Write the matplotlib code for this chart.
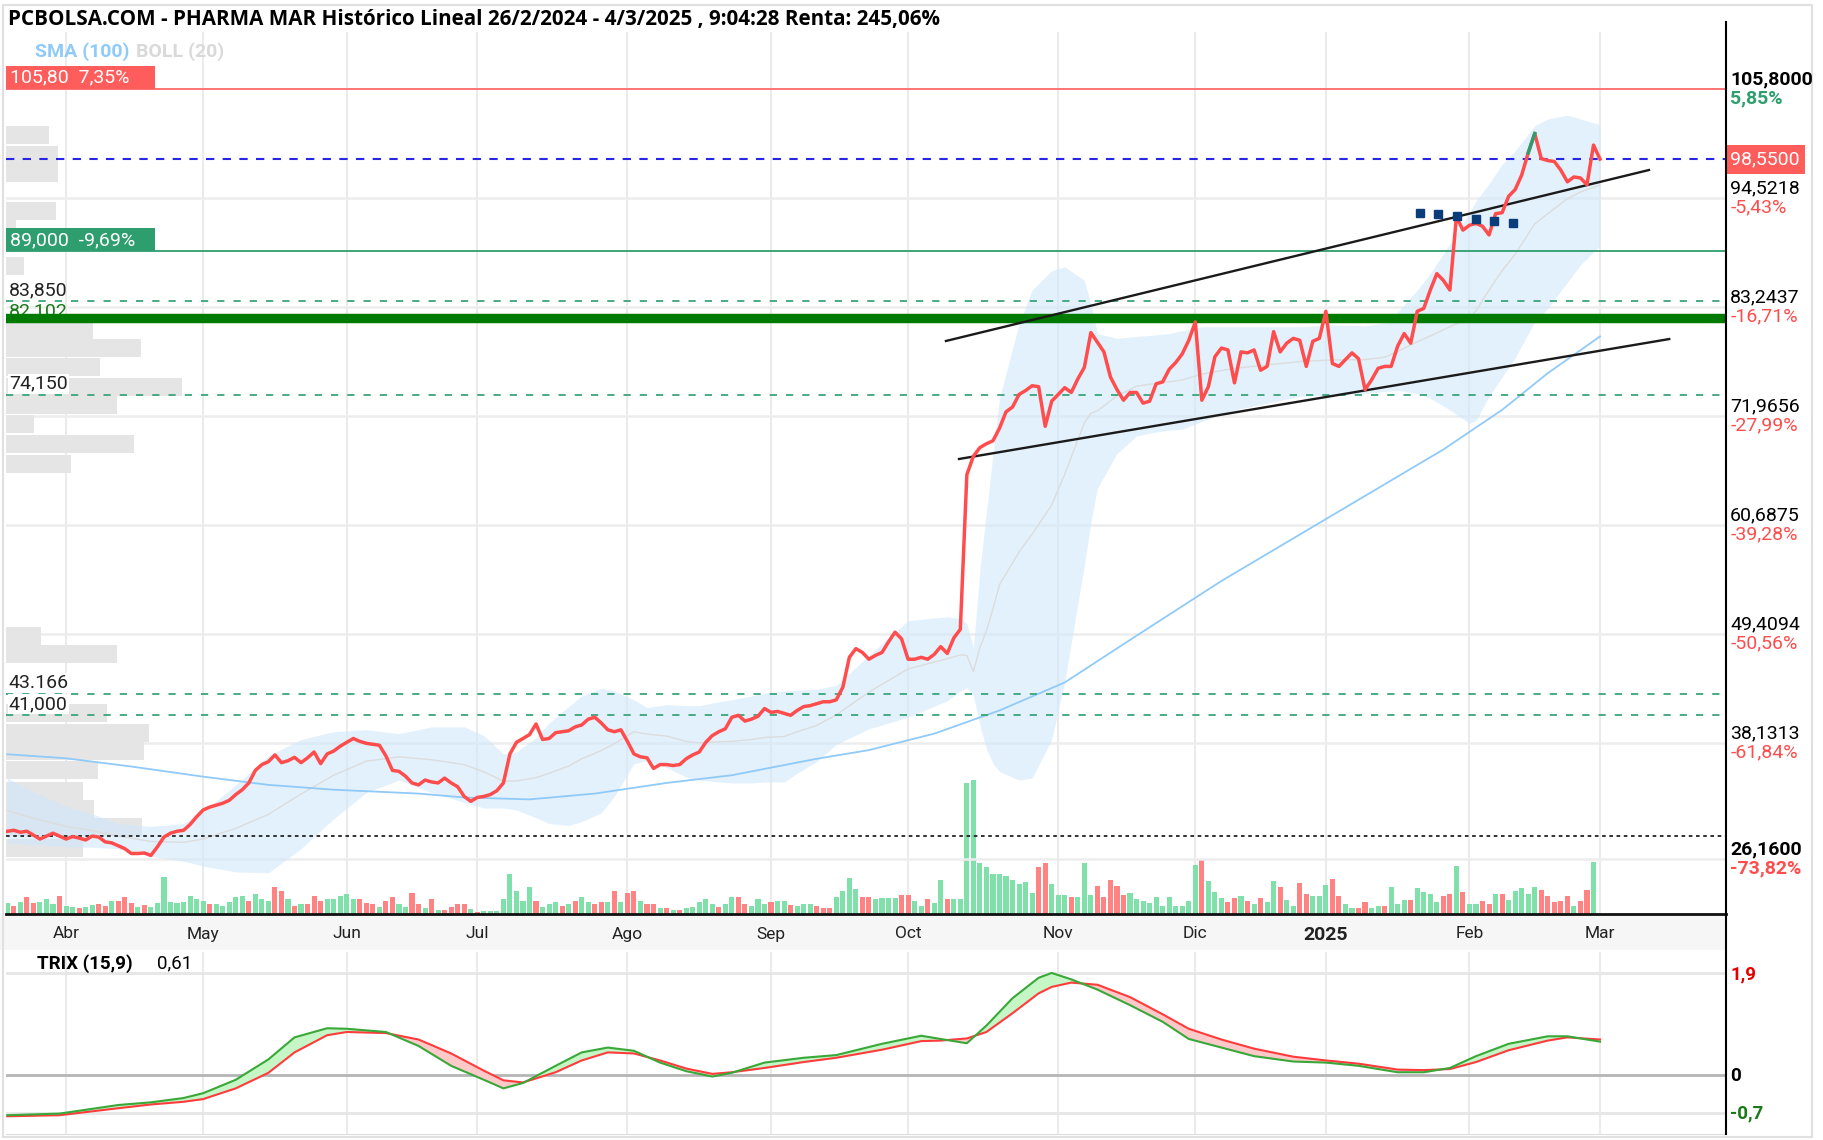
import numpy as np
import matplotlib
matplotlib.use("Agg")
import matplotlib.pyplot as plt
from matplotlib.patches import Rectangle
from matplotlib.lines import Line2D
from matplotlib.transforms import blended_transform_factory as blend

plt.rcParams['font.family'] = ['Roboto', 'DejaVu Sans']

# ---------------- datos (índice = sesión bursátil) ----------------
precio = [
    29.0, 29.1, 28.9, 29.0, 28.6, 28.2, 28.5, 28.8, 28.5, 28.2,
    28.45, 28.3, 28.1, 28.5, 28.4, 27.9, 27.8, 27.5, 27.2, 26.7,
    26.7, 26.75, 26.5, 27.4, 28.4, 28.8, 29.0, 29.1, 29.7, 30.5,
    31.2, 31.5, 31.7, 31.9, 32.2, 32.8, 33.3, 34.0, 35.3, 35.9,
    36.2, 36.9, 36.1, 36.3, 36.65, 36.1, 36.6, 37.2, 36.0, 37.0,
    37.3, 37.8, 38.2, 38.6, 38.3, 38.1, 38.0, 37.9, 36.8, 35.3,
    35.2, 34.7, 34.0, 33.8, 34.3, 34.1, 34.0, 34.5, 34.0, 33.6,
    32.6, 32.1, 32.5, 32.6, 32.8, 33.2, 34.0, 37.0, 38.2, 38.6,
    39.0, 40.1, 38.5, 38.6, 39.2, 39.3, 39.4, 39.8, 40.0, 40.6,
    40.8, 40.2, 39.5, 39.3, 39.5, 38.3, 37.0, 36.7, 36.6, 35.5,
    35.9, 35.9, 35.8, 35.9, 36.5, 36.9, 37.2, 38.2, 38.9, 39.3,
    39.6, 40.8, 41.0, 40.4, 40.6, 40.9, 41.7, 41.3, 41.4, 41.2,
    41.0, 41.5, 41.9, 42.0, 42.2, 42.4, 42.4, 42.6, 43.9, 47.0,
    47.9, 47.5, 46.8, 47.2, 47.5, 48.6, 49.6, 48.9, 46.8, 46.8,
    47.0, 46.8, 47.3, 48.1, 47.4, 49.0, 49.9, 65.9, 67.8, 68.7,
    69.1, 69.4, 70.7, 72.4, 72.9, 74.2, 74.6, 75.1, 75.0, 70.9,
    73.5, 74.2, 74.9, 74.4, 75.8, 77.0, 80.6, 79.6, 78.6, 76.0,
    74.7, 73.6, 74.4, 74.4, 73.3, 73.5, 75.3, 75.5, 76.8, 77.5,
    78.4, 79.8, 81.7, 73.6, 75.0, 78.1, 79.0, 78.8, 75.4, 78.6,
    78.5, 78.8, 76.7, 77.1, 80.7, 78.6, 79.5, 80.0, 79.8, 77.1,
    79.7, 80.0, 82.8, 77.4, 77.1, 77.8, 78.5, 77.9, 74.7, 75.7,
    76.9, 77.1, 77.1, 79.2, 80.5, 79.5, 82.8, 83.1, 85.0, 86.7,
    86.0, 85.0, 92.6, 91.2, 91.7, 91.9, 91.6, 90.7, 92.9, 93.0,
    94.7, 95.4, 96.9, 99.2, 101.2, 98.6, 98.4, 98.3, 97.4, 96.2,
    96.7, 96.6, 95.9, 100.0, 98.55,
]

volumen = [
    11, 8, 12, 17, 11, 12, 15, 10, 18, 8,
    7, 6, 7, 9, 10, 8, 13, 13, 17, 11,
    7, 9, 7, 11, 37, 12, 11, 12, 18, 15,
    13, 10, 10, 8, 12, 17, 18, 13, 20, 15,
    13, 27, 23, 15, 8, 10, 10, 18, 13, 15,
    15, 18, 20, 15, 15, 11, 10, 7, 13, 17,
    10, 7, 21, 10, 6, 15, 4, 4, 7, 10,
    10, 5, 2, 3, 3, 3, 15, 40, 23, 13,
    27, 13, 7, 10, 12, 8, 10, 13, 17, 12,
    10, 12, 12, 23, 12, 21, 23, 13, 10, 10,
    6, 6, 4, 4, 6, 7, 12, 15, 10, 7,
    10, 17, 17, 10, 8, 15, 10, 12, 13, 13,
    9, 8, 10, 10, 8, 6, 6, 17, 23, 36,
    25, 17, 17, 15, 16, 16, 16, 19, 19, 13,
    8, 15, 11, 34, 15, 15, 15, 131, 134, 51,
    47, 40, 40, 38, 34, 30, 32, 21, 47, 51,
    30, 19, 19, 17, 17, 51, 19, 28, 17, 34,
    28, 19, 21, 15, 13, 11, 17, 8, 17, 8,
    8, 13, 49, 55, 33, 22, 16, 12, 16, 18,
    13, 10, 16, 12, 33, 27, 14, 8, 31, 20,
    18, 18, 29, 35, 18, 10, 6, 6, 12, 6,
    8, 8, 27, 10, 14, 14, 26, 22, 20, 12,
    18, 20, 48, 22, 10, 10, 13, 10, 20, 20,
    14, 23, 26, 20, 27, 24, 18, 12, 13, 18,
    8, 13, 24, 52, 0,
]
# g = sesión alcista, r = bajista
vol_color = (
    "grgrrgggrg" "grggrrgrrr" "grgggggggg" "grgggggrgg" "grrgrgrrrg"
    "ggggrrrgrr" "ggrrgrgrrr" "rgrggggggg" "grgggrgrgg" "rrgrgrrgrr"
    "grgrgggggr" "ggrrgggrgg" "rgggrrrggg" "grrggggrrg" "grggrggggg"
    "ggggggggrr" "gggrgggrrr" "rrgggggggg" "gggrgggrrg" "rgrggrggrr"
    "gggrrggrrg" "grgggrgggg" "rrgrggrrgr" "gggggrrrrr" "grrgr"
)

# media simple 100 sesiones
sma_idx = [0, 9, 19, 30, 40, 50, 63, 70, 80, 90, 101, 111, 124, 132, 142, 152,
           162, 172, 186, 195, 213, 220, 229, 236, 244]
sma_val = [36.97, 36.55, 35.7, 34.65, 33.8, 33.3, 32.9, 32.5, 32.3, 32.9, 34.0, 34.8,
           36.5, 37.4, 39.1, 41.5, 44.4, 48.8, 54.9, 58.5, 65.7, 68.5, 72.6, 76.4, 80.2]

# bandas de Bollinger (20)
boll_idx = [0, 4, 9, 13, 17, 22, 27, 30, 35, 40, 45, 50, 55, 60, 65, 70, 73, 76, 78, 81,
            83, 86, 88, 91, 93, 96, 98, 101, 104, 106, 109, 111, 114, 116, 119, 121, 124,
            127, 132, 138, 144, 146, 147, 148, 149, 150, 151, 152, 155, 157, 160, 162,
            165, 166, 167, 170, 173, 175, 178, 180, 183, 188, 193, 198, 203, 208, 211,
            213, 216, 218, 221, 224, 225, 227, 229, 231, 234, 236, 239, 241, 244]
boll_sup = [34.5, 33.1, 31.6, 30.8, 29.8, 29.5, 29.8, 31.0, 33.8, 36.8, 38.5, 39.3, 39.5,
            39.1, 39.8, 39.8, 38.9, 37.0, 37.2, 38.7, 40.2, 41.9, 43.0, 43.8, 43.5, 42.6,
            41.8, 42.1, 42.0, 42.0, 42.4, 42.6, 43.0, 43.3, 43.5, 43.6, 43.7, 44.1, 47.2,
            50.8, 51.2, 51.0, 50.5, 48.0, 56.0, 62.0, 68.0, 73.8, 81.5, 85.0, 87.0, 87.4,
            86.0, 83.5, 80.5, 80.0, 80.2, 80.3, 80.5, 80.8, 81.2, 81.2, 81.2, 81.2, 81.4,
            81.3, 81.6, 82.7, 85.0, 86.7, 89.8, 93.0, 94.2, 96.0, 98.0, 99.4, 102.0,
            102.7, 103.1, 102.7, 102.1]
boll_inf = [27.8, 27.6, 27.4, 27.35, 27.2, 26.4, 25.9, 25.4, 24.8, 24.7, 27.2, 30.3, 33.0,
            34.3, 33.0, 32.0, 31.4, 31.4, 31.2, 30.4, 29.8, 29.6, 30.0, 30.9, 32.6, 36.0,
            36.3, 35.6, 34.6, 34.3, 34.1, 34.0, 34.0, 34.1, 34.1, 35.0, 36.2, 38.0, 39.6,
            40.8, 42.5, 43.5, 43.9, 43.0, 40.0, 37.5, 36.0, 35.2, 34.3, 34.5, 38.5, 44.5,
            56.5, 61.0, 64.5, 68.1, 69.9, 70.2, 70.5, 70.6, 71.4, 72.6, 73.3, 74.0, 74.15,
            74.3, 74.5, 74.6, 74.3, 73.8, 72.6, 71.2, 71.5, 74.0, 76.0, 78.0, 81.7, 83.1,
            85.8, 87.6, 89.6]

# TRIX (15,9) y su señal
trix_idx = [0, 8, 17, 22, 27, 30, 35, 40, 44, 49, 52, 58, 63, 68, 73, 76, 79, 84, 88, 92,
            96, 100, 104, 108, 111, 116, 122, 127, 134, 140, 143, 147, 150, 154, 158, 160,
            163, 167, 172, 177, 181, 186, 191, 197, 202, 207, 213, 217, 221, 225, 230,
            236, 239, 244]
trix_val = [-0.75, -0.72, -0.56, -0.51, -0.43, -0.34, -0.09, 0.29, 0.70, 0.87, 0.86, 0.80,
            0.54, 0.17, -0.09, -0.25, -0.15, 0.17, 0.42, 0.51, 0.45, 0.23, 0.07, -0.03,
            0.04, 0.23, 0.32, 0.37, 0.58, 0.73, 0.67, 0.59, 0.92, 1.43, 1.81, 1.90, 1.78,
            1.59, 1.30, 0.99, 0.67, 0.51, 0.35, 0.25, 0.23, 0.17, 0.05, 0.05, 0.13, 0.35,
            0.58, 0.72, 0.72, 0.62]
trix_sen = [-0.77, -0.75, -0.62, -0.55, -0.50, -0.45, -0.25, 0.04, 0.42, 0.74, 0.80, 0.78,
            0.66, 0.40, 0.08, -0.10, -0.14, 0.05, 0.27, 0.42, 0.40, 0.27, 0.12, 0.02,
            0.05, 0.13, 0.24, 0.32, 0.47, 0.63, 0.64, 0.68, 0.80, 1.15, 1.52, 1.64, 1.72,
            1.68, 1.45, 1.13, 0.86, 0.66, 0.49, 0.34, 0.27, 0.21, 0.10, 0.09, 0.11, 0.24,
            0.46, 0.64, 0.70, 0.66]

# perfil de volumen por precio (ancho en px)
perfil_precio = [101.0, 99.0, 97.1, 93.2, 91.3, 87.5, 80.9, 79.0, 77.0, 75.0, 73.1, 71.1,
                 69.1, 67.0, 49.2, 47.3, 41.2, 39.2, 37.3, 35.3, 33.2, 31.3, 29.4, 27.3]
perfil_ancho = [43, 52, 52, 50, 10, 18, 87, 135, 94, 176, 111, 28, 128, 65, 35, 111,
                101, 143, 138, 92, 77, 88, 136, 77]

meses_idx = [9, 30, 52, 72, 95, 117, 138, 161, 182, 202, 224, 244]
meses = ['Abr', 'May', 'Jun', 'Jul', 'Ago', 'Sep', 'Oct', 'Nov', 'Dic', '2025', 'Feb', 'Mar']

ejes_precio = [94.5218, 83.2437, 71.9656, 60.6875, 49.4094, 38.1313, 26.16]
ejes_pct = ['-5,43%', '-16,71%', '-27,99%', '-39,28%', '-50,56%', '-61,84%', '-73,82%']

maximo, ultimo, soporte = 105.80, 98.55, 89.0
inicio = 28.56
niveles_disc = [83.85, 74.15, 43.166, 41.0]
nivel_grueso = 82.102
cuadros_idx = [216.4, 219.2, 222.1, 225.0, 227.8, 230.7]
cuadros_val = [92.97, 92.86, 92.66, 92.35, 92.14, 91.93]
canal_sup = ([143.8, 251.5], [79.73, 97.42])
canal_inf = ([145.8, 254.6], [67.52, 79.93])

# ---------------- figura ----------------
W, H = 1823, 1140
PX = 6.528          # px por sesión
XMIN, XMAX = -0.2, 263.3
YMIN, YMAX = 20.44, 111.7
PX_Y = 882 / (YMAX - YMIN)


def caja(x0, y0, x1, y1):
    return [x0 / W, 1 - y1 / H, (x1 - x0) / W, (y1 - y0) / H]


fig = plt.figure(figsize=(W / 100, H / 100), dpi=100)
fig.patch.set_facecolor('white')

# banda gris de fechas y marco
fig.add_artist(Rectangle((0, 1 - 950 / H), 1726 / W, 36 / H, transform=fig.transFigure,
                         facecolor='#f6f6f6', edgecolor='none', zorder=0))
fig.add_artist(Rectangle((3 / W, 3 / H), 1 - 14 / W, 1 - 8 / H, transform=fig.transFigure,
                         facecolor='none', edgecolor='#e0e0e0', lw=1.5, zorder=0))

vol = fig.add_axes(caja(6, 32, 1726, 914))
ax = fig.add_axes(caja(6, 32, 1726, 914))
ax.patch.set_visible(False)
trx = fig.add_axes(caja(6, 952, 1726, 1134))

x = np.arange(len(precio))

# volumen (detrás)
vol.set_xlim(XMIN, XMAX)
vol.set_ylim(0, 882)
colv = ['#7fe1a9' if c == 'g' else '#ff8383' for c in vol_color]
vol.bar(x, volumen, width=0.78, color=colv, zorder=2)
for m in meses_idx:
    vol.axvline(m, color='#ebebeb', lw=1.5, zorder=0)
vol.axis('off')

# precio
ax.set_xlim(XMIN, XMAX)
ax.set_ylim(YMIN, YMAX)
for p in ejes_precio:
    ax.axhline(p, color='#ededed', lw=1.8, zorder=0)

ax.barh(perfil_precio, np.array(perfil_ancho) / PX, height=1.85, left=XMIN,
        color='#e5e5e5', zorder=1)

bs = np.array(boll_sup)
bi = np.array(boll_inf)
ax.fill_between(boll_idx, bi, bs, color='#cfe8fb', alpha=0.6, lw=0, zorder=2)
ax.plot(boll_idx, (bs + bi) / 2, color='#dcdcdc', lw=1.0, zorder=2.5)
ax.plot(sma_idx, sma_val, color='#90caf9', lw=1.3, zorder=3)

ax.axhline(maximo, color='#ff7373', lw=1.4, zorder=4)
ax.axhline(ultimo, color='#2626e6', lw=1.5, ls=(0, (4, 4)), zorder=4)
ax.axhline(soporte, color='#2e9e6e', lw=1.3, zorder=4)
for n in niveles_disc:
    ax.axhline(n, color='#3aa57a', lw=1.3, ls=(0, (4, 5)), zorder=4)
ax.axhline(inicio, color='#222222', lw=1.3, ls=(0, (2, 2)), zorder=4)

ax.plot(*canal_sup, color='#1a1a1a', lw=1.7, zorder=7)
ax.plot(*canal_inf, color='#1a1a1a', lw=1.7, zorder=7)

ax.plot(x, precio, color='#ff4d4d', lw=2.5, zorder=8, solid_joinstyle='round')
ax.plot(x[233:235], precio[233:235], color='#2e9e6e', lw=2.5, zorder=8.5)
ax.plot(cuadros_idx, cuadros_val, ls='none', marker='s', ms=6, color='#0b3d7a', zorder=9)

ax.axhline(nivel_grueso, color='#007a00', lw=6.8, zorder=6)

ax.set_xticks(meses_idx)
ax.set_xticklabels(meses)
for t in ax.get_xticklabels():
    t.set_fontsize(12.5)
    t.set_color('#222222')
    if t.get_text() == '2025':
        t.set_fontweight('bold')
        t.set_fontsize(14)
ax.tick_params(axis='x', length=0, pad=9)
ax.set_yticks([])
for s in ['top', 'left', 'right']:
    ax.spines[s].set_visible(False)
ax.spines['bottom'].set_linewidth(2)
ax.spines['bottom'].set_color('#111111')

# etiquetas de niveles a la izquierda
izq = blend(ax.transAxes, ax.transData)
fs_izq = 14
ax.annotate('83,850', xy=(0, 83.85), xycoords=izq, xytext=(2, 1), textcoords='offset points',
            va='bottom', fontsize=fs_izq, color='#222222', zorder=5)
ax.annotate('82,102', xy=(0, nivel_grueso), xycoords=izq, xytext=(2, -2), textcoords='offset points',
            va='bottom', fontsize=fs_izq, color='#1a7a1a', zorder=5)
for n in [74.15, 43.166, 41.0]:
    txt = '43.166' if n == 43.166 else f'{n:.3f}'.replace('.', ',')
    ax.annotate(txt, xy=(0, n), xycoords=izq, xytext=(2, 1.5), textcoords='offset points',
                va='bottom', fontsize=fs_izq, color='#222222', zorder=5,
                bbox=dict(boxstyle='square,pad=0.05', fc='white', ec='none'))

# cajas de máximo y soporte
ancho_caja = 149 / 1720
alto_caja = 23 / PX_Y
for nivel, texto, color in [(maximo, '105,80  7,35%', '#ff5c5c'),
                            (soporte, '89,000  -9,69%', '#2e9e6e')]:
    ax.add_patch(Rectangle((0, nivel), ancho_caja, alto_caja, transform=izq,
                           facecolor=color, edgecolor='none', zorder=10))
    ax.annotate(texto, xy=(0, nivel + alto_caja / 2), xycoords=izq, xytext=(3, 0),
                textcoords='offset points', va='center', fontsize=14, color='white', zorder=11)

# etiquetas del eje derecho
der = blend(ax.transAxes, ax.transData)
fs_der = 14
ax.annotate('105,8000', xy=(1, maximo), xycoords=der, xytext=(3, 7), textcoords='offset points',
            va='center', fontsize=fs_der, fontweight='bold', color='black', annotation_clip=False)
ax.annotate('5,85%', xy=(1, maximo), xycoords=der, xytext=(3, -7), textcoords='offset points',
            va='center', fontsize=fs_der, fontweight='bold', color='#2e9e6e', annotation_clip=False)
ax.annotate('98,5500', xy=(1, ultimo), xycoords=der, xytext=(3, 0), textcoords='offset points',
            va='center', fontsize=fs_der, color='white', annotation_clip=False,
            bbox=dict(boxstyle='square,pad=0.28', fc='#ff5c5c', ec='none'))
for p, pct in zip(ejes_precio, ejes_pct):
    peso = 'bold' if p == 26.16 else 'normal'
    ax.annotate(f'{p:.4f}'.replace('.', ','), xy=(1, p), xycoords=der, xytext=(3, 7),
                textcoords='offset points', va='center', fontsize=fs_der, fontweight=peso,
                color='black', annotation_clip=False)
    ax.annotate(pct, xy=(1, p), xycoords=der, xytext=(3, -7), textcoords='offset points',
                va='center', fontsize=fs_der, fontweight=peso, color='#ff4d4d',
                annotation_clip=False)

# TRIX
trx.set_xlim(XMIN, XMAX)
trx.set_ylim(-1.10, 2.29)
for m in meses_idx:
    trx.axvline(m, color='#ebebeb', lw=1.5, zorder=0)
trx.axhline(1.9, color='#e6e6e6', lw=2, zorder=0)
trx.axhline(-0.7, color='#e6e6e6', lw=2, zorder=0)
trx.axhline(0, color='#b5b5b5', lw=2, zorder=0)
tv = np.array(trix_val)
ts = np.array(trix_sen)
trx.fill_between(trix_idx, tv, ts, where=tv >= ts, interpolate=True, color='#c6f5c6', lw=0, zorder=1)
trx.fill_between(trix_idx, tv, ts, where=tv < ts, interpolate=True, color='#ffc9c9', lw=0, zorder=1)
trx.plot(trix_idx, trix_sen, color='#ff3b3b', lw=1.5, zorder=2)
trx.plot(trix_idx, trix_val, color='#38a838', lw=1.5, zorder=3)
trx.set_xticks([])
trx.set_yticks([])
for s in ['top', 'left', 'right']:
    trx.spines[s].set_visible(False)
trx.spines['bottom'].set_color('#dddddd')
trx.text(0.018, 0.935, 'TRIX (15,9)', transform=trx.transAxes, fontsize=13.5,
         fontweight='bold', va='center')
trx.text(0.088, 0.935, '0,61', transform=trx.transAxes, fontsize=13.5, va='center')
dtr = blend(trx.transAxes, trx.transData)
for val, txt, col in [(1.9, '1,9', '#e60000'), (0, '0', 'black'), (-0.7, '-0,7', '#1a7a1a')]:
    trx.annotate(txt, xy=(1, val), xycoords=dtr, xytext=(3, -1), textcoords='offset points',
                 va='center', fontsize=13.5, fontweight='bold', color=col, annotation_clip=False)

# eje derecho negro
fig.add_artist(Line2D([1726 / W, 1726 / W], [1 - 22 / H, 1 - 1134 / H], color='black', lw=1.5))

# título y leyenda
fig.text(8 / W, 1 - 20 / H, 'PCBOLSA.COM - PHARMA MAR Histórico Lineal 26/2/2024 - 4/3/2025 , '
         '9:04:28 Renta: 245,06%', fontsize=14.9, fontweight='bold', va='center', ha='left',
         family=['Open Sans', 'DejaVu Sans'])
fig.text(35 / W, 1 - 52 / H, 'SMA (100)', fontsize=14, fontweight='bold', color='#90caf9',
         va='center')
fig.text(136 / W, 1 - 52 / H, 'BOLL (20)', fontsize=14, fontweight='bold', color='#d9d9d9',
         va='center')

fig.savefig('out.png', dpi=100)
